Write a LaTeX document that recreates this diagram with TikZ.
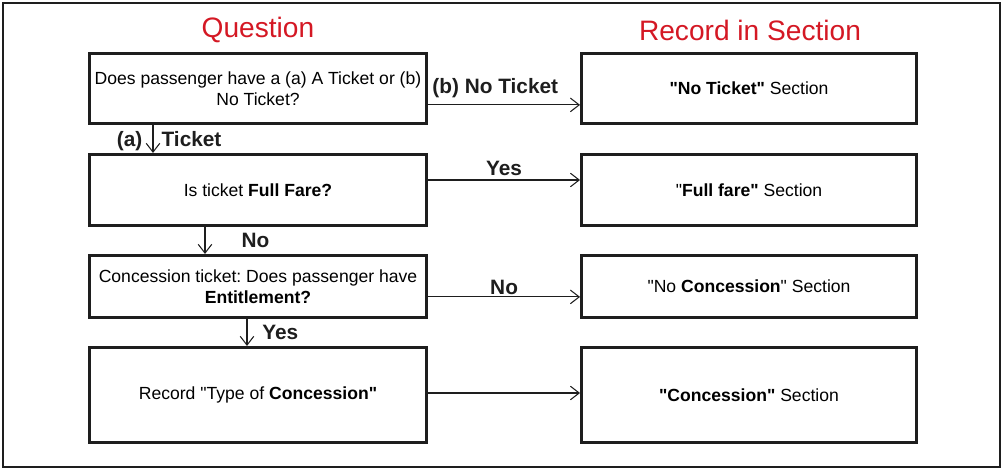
\documentclass[tikz,border=0pt]{standalone}
\usepackage{fontspec}
\setmainfont{Liberation Sans}[Ligatures=TeXOff]
\usetikzlibrary{positioning,arrows.meta}

\definecolor{headred}{RGB}{212,24,36}
\definecolor{ink}{RGB}{30,30,30}
\frenchspacing

\begin{document}
\begin{tikzpicture}[
  box/.style={draw=ink, line width=2.2pt, fill=white, align=center,
    minimum width=8.43cm, inner sep=2pt,
    font=\fontsize{12.5}{14.9}\selectfont},
  rbox/.style={box, minimum width=8.37cm},
  flow/.style={draw=ink, line width=0.75pt, -{Straight Barb[length=2.2mm,width=3.4mm]}},
  lbl/.style={font=\fontsize{14.8}{17}\selectfont\bfseries, text=ink, inner sep=1.5pt},
  head/.style={font=\fontsize{20}{23}\selectfont, text=headred}
]
\useasboundingbox (0,0) rectangle (25.1,-11.75);

% --- outer frame ---
\draw[ink, line width=1.6pt] (0.075,-0.075) rectangle (25.0,-11.68);

% --- column headings ---
\node[head] (qhead) at (6.45,-0.76) {Question};
\node[head] (rhead) at (18.75,-0.76) {Record in Section};

% --- question column ---
\node[box, minimum height=1.75cm] (ticket) at (6.45,-2.2125)
  {Does passenger have a (a) A Ticket or (b)\\No Ticket?};
\node[box, minimum height=1.775cm] (fullfare) at (6.45,-4.75)
  {Is ticket \textbf{Full Fare?}};
\node[box, minimum height=1.55cm] (entitle) at (6.45,-7.1625)
  {Concession ticket: Does passenger have\\\textbf{Entitlement?}};
\node[box, minimum height=2.375cm] (type) at (6.45,-9.875)
  {Record "Type of \textbf{Concession"}};

% --- section column (same rows) ---
\node[rbox, minimum height=1.75cm] (noticket) at (18.725,-2.2125)
  {\textbf{"No Ticket"} Section};
\node[rbox, minimum height=1.775cm] (full) at (18.725,-4.75)
  {"\textbf{Full fare"} Section};
\node[rbox, minimum height=1.55cm] (nocon) at (18.725,-7.1625)
  {"No \textbf{Concession}" Section};
\node[rbox, minimum height=2.375cm] (con) at (18.725,-9.875)
  {\textbf{"Concession"} Section};

% --- across to the sections ---
\draw[flow] ([yshift=-0.41cm]ticket.east) -- ([yshift=-0.41cm]noticket.west)
  node[lbl, above, midway, xshift=-0.22cm, yshift=0.1cm] {(b) No Ticket};
\draw[flow] ([yshift=0.25cm]fullfare.east) -- ([yshift=0.25cm]full.west)
  node[lbl, above, midway, yshift=0.05cm] {Yes};
\draw[flow] ([yshift=-0.26cm]entitle.east) -- ([yshift=-0.26cm]nocon.west)
  node[lbl, above, midway] {No};
\draw[flow] ([yshift=0.05cm]type.east) -- ([yshift=0.05cm]con.west);

% --- down the questions ---
\draw[flow] ([xshift=-2.625cm]ticket.south) -- ([xshift=-2.625cm]fullfare.north)
  node[lbl, left, midway, xshift=-0.2cm, yshift=-0.05cm] {(a)}
  node[lbl, right, midway, xshift=0.15cm] {Ticket};
\draw[flow] ([xshift=-1.325cm]fullfare.south) -- ([xshift=-1.325cm]entitle.north)
  node[lbl, right, midway, xshift=0.85cm] {No};
\draw[flow] ([xshift=-0.275cm]entitle.south) -- ([xshift=-0.275cm]type.north)
  node[lbl, right, midway, xshift=0.32cm] {Yes};

\end{tikzpicture}
\end{document}
